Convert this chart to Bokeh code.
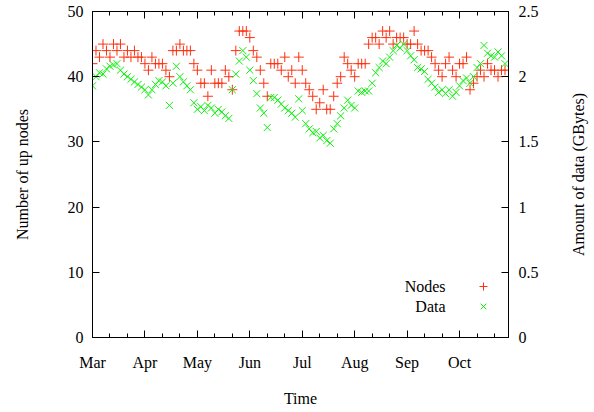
import math

from bokeh.plotting import figure
from bokeh.models import (LinearAxis, Range1d, FixedTicker, Legend, LegendItem,
                          Label, ColumnDataSource, CustomLabelingPolicy)
from bokeh.embed import file_html
from bokeh.resources import INLINE

# Samples every 2 days starting 1 March
days = list(range(0, 237, 2))

nodes = [42, 44, 43, 45, 44, 43, 45, 44, 45, 43,
         44, 43, 44, 43, 43, 42, 41, 43, 42, 42,
         42, 41, 40, 44, 44, 45, 44, 44, 44, 42,
         41, 39, 39, 37, 41, 39, 39, 39, 41, 40,
         38, 44, 47, 47, 47, 46, 44, 43, 41, 39,
         37, 42, 42, 42, 41, 43, 40, 41, 39, 43,
         41, 39, 38, 37, 35, 36, 38, 35, 35, 37,
         39, 40, 43, 42, 41, 40, 42, 42, 42, 45,
         46, 46, 45, 47, 46, 47, 45, 46, 46, 46,
         45, 45, 47, 45, 44, 44, 44, 43, 42, 41,
         40, 42, 43, 41, 40, 42, 42, 43, 38, 39,
         40, 41, 40, 42, 41, 41, 40, 41, 41]

data_gb = [1.93, 2.00, 2.03, 2.02, 2.06, 2.08, 2.09, 2.10, 2.05, 2.02,
           2.00, 1.98, 1.96, 1.94, 1.92, 1.90, 1.86, 1.90, 1.94, 1.97,
           1.96, 1.93, 1.78, 1.95, 2.08, 2.00, 1.96, 1.93, 1.90, 1.80,
           1.75, 1.77, 1.74, 1.78, 1.76, 1.72, 1.75, 1.73, 1.70, 1.68,
           1.90, 2.02, 2.12, 2.20, 2.15, 2.05, 1.97, 1.87, 1.76, 1.72,
           1.61, 1.84, 1.84, 1.82, 1.79, 1.76, 1.74, 1.72, 1.69, 1.83,
           1.74, 1.64, 1.60, 1.57, 1.58, 1.53, 1.55, 1.51, 1.49, 1.60,
           1.64, 1.70, 1.76, 1.82, 1.78, 1.76, 1.89, 1.88, 1.89, 1.89,
           1.95, 2.03, 2.07, 2.12, 2.10, 2.15, 2.20, 2.24, 2.22, 2.25,
           2.20, 2.16, 2.13, 2.07, 2.06, 2.04, 1.98, 1.95, 1.92, 1.88,
           1.90, 1.87, 1.90, 1.85, 1.88, 1.93, 1.97, 1.99, 1.95, 2.00,
           2.07, 2.10, 2.24, 2.18, 2.16, 2.15, 2.19, 2.16, 2.10]

month_ticks = [0, 30, 60, 90, 120, 150, 180, 210]
month_labels = ["Mar", "Apr", "May", "Jun", "Jul", "Aug", "Sep", "Oct"]
minor_day_ticks = [d for d in range(0, 240, 10) if d not in month_ticks]
node_ticks = [0, 10, 20, 30, 40, 50]
gb_ticks = [0, 0.5, 1, 1.5, 2, 2.5]
series_names = ["Nodes", "Data"]

FONT = "Liberation Serif"
FS = "16px"
RED = "#ff3010"
GREEN = "#10ee10"

src = ColumnDataSource(dict(day=days, nodes=nodes, gb=data_gb))

p = figure(frame_width=416, frame_height=326,
           x_range=Range1d(0, 238), y_range=Range1d(0, 50),
           output_backend="svg", toolbar_location=None,
           min_border_left=92, min_border_right=86,
           min_border_top=11, min_border_bottom=75,
           background_fill_color="white", border_fill_color="white")
p.extra_y_ranges = {"gb": Range1d(0, 2.5)}
p.xgrid.visible = False
p.ygrid.visible = False
p.outline_line_color = "black"
p.outline_line_width = 1


def style_axis(ax):
    ax.axis_line_color = "black"
    ax.major_tick_line_color = "black"
    ax.minor_tick_line_color = "black"
    ax.major_tick_in = 7
    ax.major_tick_out = 0
    ax.minor_tick_in = 4
    ax.minor_tick_out = 0
    ax.major_label_text_font = FONT
    ax.major_label_text_font_size = FS
    ax.major_label_text_color = "black"
    ax.axis_label_text_font = FONT
    ax.axis_label_text_font_size = FS
    ax.axis_label_text_font_style = "normal"
    ax.axis_label_text_color = "black"


xax = p.xaxis[0]
xax.ticker = FixedTicker(ticks=month_ticks, minor_ticks=minor_day_ticks)
xax.major_label_overrides = {t: l for t, l in zip(month_ticks, month_labels)}
xax.axis_label = "Time"
style_axis(xax)
xax.major_label_standoff = 16
xax.axis_label_standoff = 16

yax = p.yaxis[0]
yax.ticker = FixedTicker(ticks=node_ticks, minor_ticks=[])
yax.axis_label = "Number of up nodes"
style_axis(yax)
yax.major_label_standoff = 9
yax.axis_label_standoff = 34

y2 = LinearAxis(y_range_name="gb",
                ticker=FixedTicker(ticks=gb_ticks, minor_ticks=[]))
style_axis(y2)
y2.major_label_standoff = 10
p.add_layout(y2, "right")

# Right-hand title in its own side panel, reading bottom-to-top like the left one
p.add_layout(Label(x=278, y=25, x_units="data", y_units="data",
                   text="Amount of data (GBytes)", angle=math.pi / 2,
                   text_align="center", text_baseline="middle",
                   text_font=FONT, text_font_size=FS, text_color="black"),
             "right")

# mirrored ticks along the top edge, without labels
top = LinearAxis(ticker=FixedTicker(ticks=month_ticks, minor_ticks=minor_day_ticks))
style_axis(top)
top.major_label_text_font_size = "0px"
top.major_label_standoff = 0
top.major_label_policy = CustomLabelingPolicy(code="""
    for (const i of Array.from(indices)) { indices.unset(i) }
    return indices
""")
p.add_layout(top, "above")

r_nodes = p.scatter("day", "nodes", source=src, marker="cross", size=10,
                    line_color=RED, line_width=1)
r_data = p.scatter("day", "gb", source=src, y_range_name="gb", marker="x",
                   size=10, line_color=GREEN, line_width=1)

# Key symbols; the series names are drawn right-aligned to their left
legend = Legend(items=[LegendItem(label=" ", renderers=[r_nodes]),
                       LegendItem(label=" ", renderers=[r_data])],
                location=(381, 21), padding=0, margin=0, spacing=0,
                glyph_width=20, glyph_height=20, label_standoff=0,
                label_text_font_size=FS, label_text_color=None,
                border_line_color=None, background_fill_alpha=0)
p.add_layout(legend)

for name, yv in zip(series_names, (7.8, 4.75)):
    p.add_layout(Label(x=202, y=yv, text=name, text_align="right",
                       text_baseline="middle", text_font=FONT,
                       text_font_size=FS, text_color="black"))

open("out.html", "w").write(file_html(p, INLINE))
